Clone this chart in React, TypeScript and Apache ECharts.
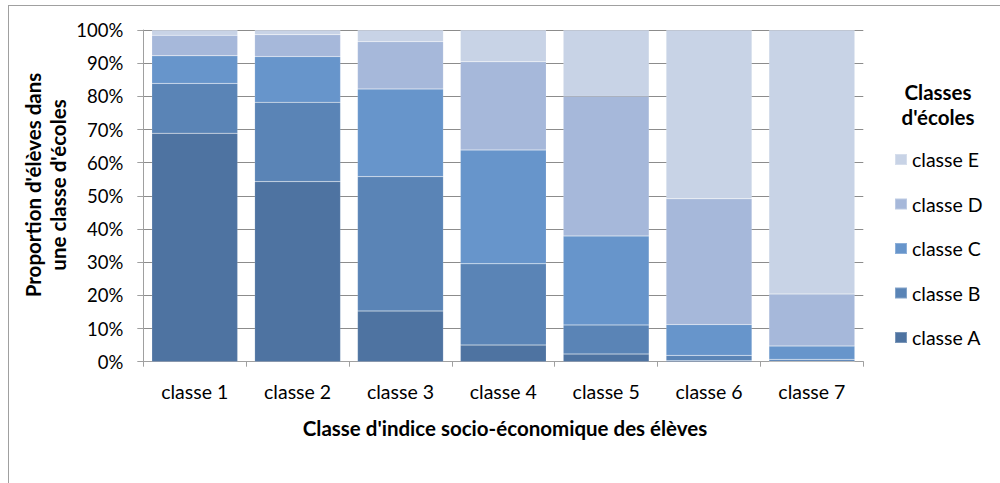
import React, { useEffect, useRef } from "react";
import * as echarts from "echarts";

const categories = ["classe 1", "classe 2", "classe 3", "classe 4", "classe 5", "classe 6", "classe 7"];
const seriesNames = ["classe A", "classe B", "classe C", "classe D", "classe E"];
const classeA = [68.9, 54.3, 15.3, 5.0, 2.3, 0.3, 0.1];
const classeB = [15.0, 23.9, 40.5, 24.5, 8.8, 1.6, 0.6];
const classeC = [8.3, 13.8, 26.4, 34.3, 26.8, 9.3, 4.0];
const classeD = [6.2, 6.6, 14.3, 26.6, 42.1, 37.9, 15.7];
const classeE = [1.6, 1.4, 3.5, 9.6, 20.0, 50.9, 79.6];
const colors = ["#4e73a1", "#5a84b6", "#6795cb", "#a6b8da", "#c8d3e6"];
const legendOrder = ["classe E", "classe D", "classe C", "classe B", "classe A"];

const FONT = "Lato, 'Open Sans', sans-serif";

export default function App() {
  const ref = useRef<HTMLDivElement>(null);
  useEffect(() => {
    if (!ref.current) return;
    const chart = echarts.init(ref.current, null, { renderer: "svg" });
    const data = [classeA, classeB, classeC, classeD, classeE];
    const bold = (text: string, x: number, y: number, rot = 0) => ({
      type: "text",
      x,
      y,
      rotation: rot,
      style: { text, fontSize: 20.5, fontWeight: "bold", fill: "#000", align: "center", verticalAlign: "middle", fontFamily: FONT },
    });
    chart.setOption({
      animation: false,
      textStyle: { fontFamily: FONT },
      grid: { left: 143.3, right: 136.7, top: 30, bottom: 121.3, containLabel: false },
      legend: {
        data: legendOrder,
        orient: "vertical",
        left: 889,
        top: 144.5,
        itemWidth: 12,
        itemHeight: 11,
        itemGap: 24.5,
        icon: "rect",
        textStyle: { fontSize: 19.5, color: "#000", fontFamily: FONT, lineHeight: 17 },
      },
      xAxis: {
        type: "category",
        data: categories,
        axisLine: { lineStyle: { color: "#a0a0a0", width: 1 } },
        axisTick: { show: true, length: 5, lineStyle: { color: "#a0a0a0" } },
        axisLabel: { fontSize: 19.5, color: "#000", margin: 20, fontFamily: FONT },
      },
      yAxis: {
        type: "value",
        min: 0,
        max: 100,
        interval: 10,
        axisLine: { show: true, lineStyle: { color: "#a0a0a0", width: 1 } },
        axisTick: { show: true, length: 6, lineStyle: { color: "#a0a0a0" } },
        axisLabel: { fontSize: 18.5, color: "#000", margin: 20, formatter: "{value}%", fontFamily: FONT },
        splitLine: { show: true, lineStyle: { color: "#8c8c8c", width: 1 } },
      },
      series: seriesNames.map((name, i) => ({
        name,
        type: "bar",
        stack: "total",
        data: data[i],
        barCategoryGap: "16.5%",
        itemStyle: { color: colors[i], borderColor: "rgba(255,255,255,0.25)", borderWidth: 0.5 },
      })),
      graphic: [
        { type: "line", shape: { x1: 8, y1: 5.5, x2: 1000, y2: 5.5 }, style: { stroke: "#a0a0a0", lineWidth: 1 } },
        { type: "line", shape: { x1: 8.5, y1: 5, x2: 8.5, y2: 483 }, style: { stroke: "#a0a0a0", lineWidth: 1 } },
        bold("Classes", 938, 92),
        bold("d'écoles", 938, 117),
        bold("Classe d'indice socio-économique des élèves", 505, 428),
        bold("Proportion d'élèves dans", 33, 185, Math.PI / 2),
        bold("une classe d'écoles", 58, 185, Math.PI / 2),
      ],
    });
    return () => chart.dispose();
  }, []);
  return <div ref={ref} style={{ position: "fixed", left: 0, top: 0, width: 1000, height: 483, background: "#fff" }} />;
}
